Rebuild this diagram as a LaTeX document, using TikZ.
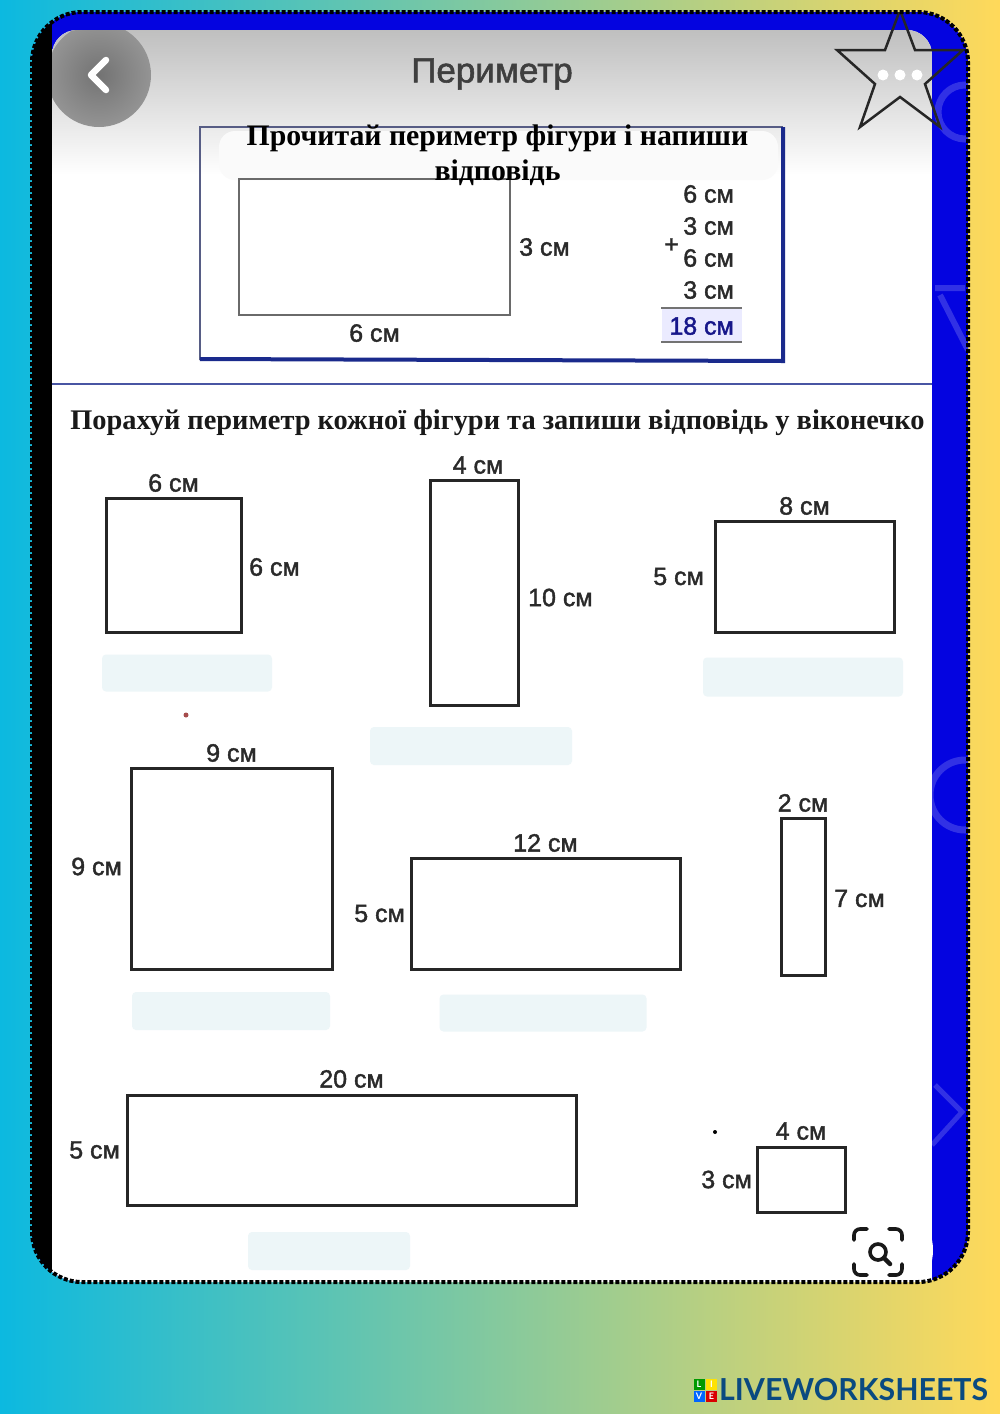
\documentclass[tikz,border=0pt]{standalone}
\usepackage{fontspec}
\setmainfont[FakeBold=1.6]{Liberation Sans}
\newfontfamily\titlefont{Liberation Serif}
\newfontfamily\logofont{Lato}
\usetikzlibrary{positioning}
\definecolor{inkgray}{HTML}{2A2A2A}
\definecolor{framenavy}{HTML}{1A2A8C}
\definecolor{frameblue}{HTML}{0404E0}
\definecolor{paleblue}{HTML}{EDF6F8}
\definecolor{logoblue}{HTML}{0A4A80}
\definecolor{bgleft}{HTML}{0CB9E0}
\definecolor{bgmid}{HTML}{8FD192}
\definecolor{bgright}{HTML}{FFD95A}
\tikzset {
	figbox/.style={rectangle, draw=black!85, line width=3pt, inner sep=0pt, outer sep=0pt},
	dim/.style={inner sep=0pt, text=inkgray, font=\fontsize{25}{25}\selectfont},
	sumline/.style={draw=gray!90!black, line width=2.4pt},
	answer/.style={rectangle, fill=paleblue, inner sep=0pt, rounded corners=4pt},
	logosq/.style={rectangle, inner sep=0pt, minimum size=11pt, text=white, font=\logofont\bfseries\fontsize{9}{9}\selectfont}
}

\begin{document}
\begin{tikzpicture}[x=1pt, y=-1pt]
	\useasboundingbox (0,0) rectangle (1000,1414);
	\shade[left color=bgleft, middle color=bgmid, right color=bgright] (0,0) rectangle (1000,1414);
	% screen with its frame
	\begin{scope}
		\clip[rounded corners=50pt] (32,12) rectangle (968,1282);
		\fill[frameblue] (32,12) rectangle (968,1282);
		\fill[black] (32,12) rectangle (52,1282);
		\draw[frameblue!82!white, line width=7pt] (965,112) circle (27pt);
		\draw[frameblue!82!white, line width=7pt] (965,795) circle (35pt);
		\draw[frameblue!82!white, line width=6pt] (935,288) -- (965,288) (940,295) -- (968,350);
		\draw[frameblue!82!white, line width=5pt] (932,1145) -- (962,1112) -- (935,1085);
		\begin{scope}
			\clip[rounded corners=25pt] (52,30) rectangle (932,1320);
			\fill[white] (52,30) rectangle (932,1320);
			\shade[top color=gray!50!white, bottom color=white] (52,30) rectangle (932,175);
			\shade[inner color=black!55, outer color=black!42] (99,75) circle (52pt);
		\end{scope}
		\fill[white] (880,1250) circle (53pt);
		% star
		\draw[black!85, line width=2.5pt, line join=miter] (900,10) -- (885,50) -- (837,50) -- (875,84) -- (860,127) -- (900,97) -- (940,127) -- (925,84) -- (963,50) -- (915,50) -- cycle;
	\end{scope}
	\draw[black, line width=4pt, dash pattern=on 4pt off 2pt, rounded corners=50pt] (32,12) rectangle (968,1282);
	% top bar
	\draw[white, line width=6.5pt, line cap=round, line join=round] (106,60) -- (91,75) -- (106,90);
	\foreach \dotx in {883,900,917}
		\fill[white] (\dotx,75) circle (5.5pt);
	\node (heading) at (492,74) {\fontsize{35}{35}\selectfont\color{inkgray!90}Периметр};
	% sample box
	\draw[gray!60!framenavy, line width=2pt] (200,360) -- (200,127) -- (783,127);
	\draw[framenavy, line width=4pt] (783,127) -- (783,361) -- (200,359);
	\fill[white!96!gray, rounded corners=16pt] (219,131) rectangle (778,180);
	\node[figbox, draw=inkgray!70, line width=2.6pt, minimum width=271pt, minimum height=136pt] (sample) at (374.5,247) {};
	\node[dim, right=9pt of sample] {3 см};
	\node[dim, below=9pt of sample] {6 см};
	\node[dim, anchor=east] (suma) at (734,194) {6 см};
	\node[dim, anchor=east] (sumb) at (734,226) {3 см};
	\node[dim, anchor=east] (sumc) at (734,258) {6 см};
	\node[dim, anchor=east] (sumd) at (734,290) {3 см};
	\node[dim, left=4pt of sumb.south west, anchor=north east, yshift=-3pt] (plus) {+};
	\fill[blue!8] (662,309) rectangle (742,342);
	\coordinate (linea) at (661,308);
	\coordinate (lineb) at (742,308);
	\coordinate (linec) at (661,342);
	\coordinate (lined) at (742,342);
	\draw[sumline] (linea) -- (lineb);
	\draw[sumline] (linec) -- (lined);
	\node[dim, text=blue!45!inkgray, anchor=east] (sumtotal) at (734,326) {18 см};
	\node[align=center, text=black, font=\titlefont\bfseries\fontsize{29.8}{35}\selectfont] (titleone) at (497.5,155) {Прочитай периметр фігури і напиши\\відповідь};
	\coordinate (rulea) at (52,384);
	\coordinate (ruleb) at (932,384);
	\draw[framenavy!80, line width=2pt] (rulea) -- (ruleb);
	\node[text=inkgray!60!black, font=\titlefont\bfseries\fontsize{28.4}{30}\selectfont] (titletwo) at (497.5,423) {Порахуй периметр кожної фігури та запиши відповідь у віконечко};
	% answer fields
	\foreach \ax/\ay/\aw/\ah in {187/673/170/37, 803/677/200/39, 471/746/202/38, 231/1011/198/38, 543/1013/207/37, 329/1251/162/38}
		\node[answer, minimum width=\aw pt, minimum height=\ah pt] at (\ax,\ay) {};
	% figures
	\node[figbox, minimum width=135pt, minimum height=134pt] (sqa) at (173.5,565) {};
	\node[dim, above=6pt of sqa] {6 см};
	\node[dim, right=8pt of sqa, yshift=-2pt] {6 см};
	\node[figbox, minimum width=88pt, minimum height=225pt] (recta) at (474,592.5) {};
	\node[dim, above=6pt of recta, xshift=4pt] {4 см};
	\node[dim, right=10pt of recta, yshift=-5pt] {10 см};
	\node[figbox, minimum width=179pt, minimum height=111pt] (rectb) at (804.5,576.5) {};
	\node[dim, above=6pt of rectb] {8 см};
	\node[dim, left=11pt of rectb] {5 см};
	\node[figbox, minimum width=201pt, minimum height=201pt] (sqb) at (231.5,868.5) {};
	\node[dim, above=6pt of sqb] {9 см};
	\node[dim, left=9pt of sqb, yshift=2pt] {9 см};
	\node[figbox, minimum width=269pt, minimum height=111pt] (rectc) at (545.5,913.5) {};
	\node[dim, above=6pt of rectc] {12 см};
	\node[dim, left=6pt of rectc] {5 см};
	\node[figbox, minimum width=44pt, minimum height=157pt] (rectd) at (803,896.5) {};
	\node[dim, above=6pt of rectd] {2 см};
	\node[dim, right=9pt of rectd, yshift=-2pt] {7 см};
	\node[figbox, minimum width=449pt, minimum height=110pt] (recte) at (351.5,1150) {};
	\node[dim, above=7pt of recte] {20 см};
	\node[dim, left=7pt of recte] {5 см};
	\node[figbox, minimum width=88pt, minimum height=65pt] (rectf) at (801,1179.5) {};
	\node[dim, above=7pt of rectf] {4 см};
	\node[dim, left=5pt of rectf] {3 см};
	% specks
	\fill[red!50!black!70] (186,715) circle (2.5pt);
	\fill[black] (715,1132) circle (2pt);
	% search icon
	\begin{scope}[black!90, line width=3.6pt, line cap=round]
		\draw (854,1240) -- (854,1235) arc (180:90:6pt) -- (867,1229);
		\draw (889,1229) -- (896,1229) arc (90:0:6pt) -- (902,1240);
		\draw (854,1264) -- (854,1269) arc (180:270:6pt) -- (867,1275);
		\draw (889,1275) -- (896,1275) arc (270:360:6pt) -- (902,1264);
		\draw (878,1252) circle (8pt);
		\draw[line width=4.5pt] (884,1258) -- (890,1264);
	\end{scope}
	% logo
	\node[logosq, fill=green!60!black] (logol) at (699,1384) {L};
	\node[logosq, fill=yellow!85!orange, right=1pt of logol] (logoi) {I};
	\node[logosq, fill=blue!60!cyan, below=1pt of logol] (logov) {V};
	\node[logosq, fill=red!85!black, right=1pt of logov] (logoe) {E};
	\node[text=logoblue, inner sep=0pt, anchor=west, font=\logofont\bfseries\fontsize{30.3}{31}\selectfont] (logotext) at (719,1390) {LIVEWORKSHEETS};
\end{tikzpicture}
\end{document}
